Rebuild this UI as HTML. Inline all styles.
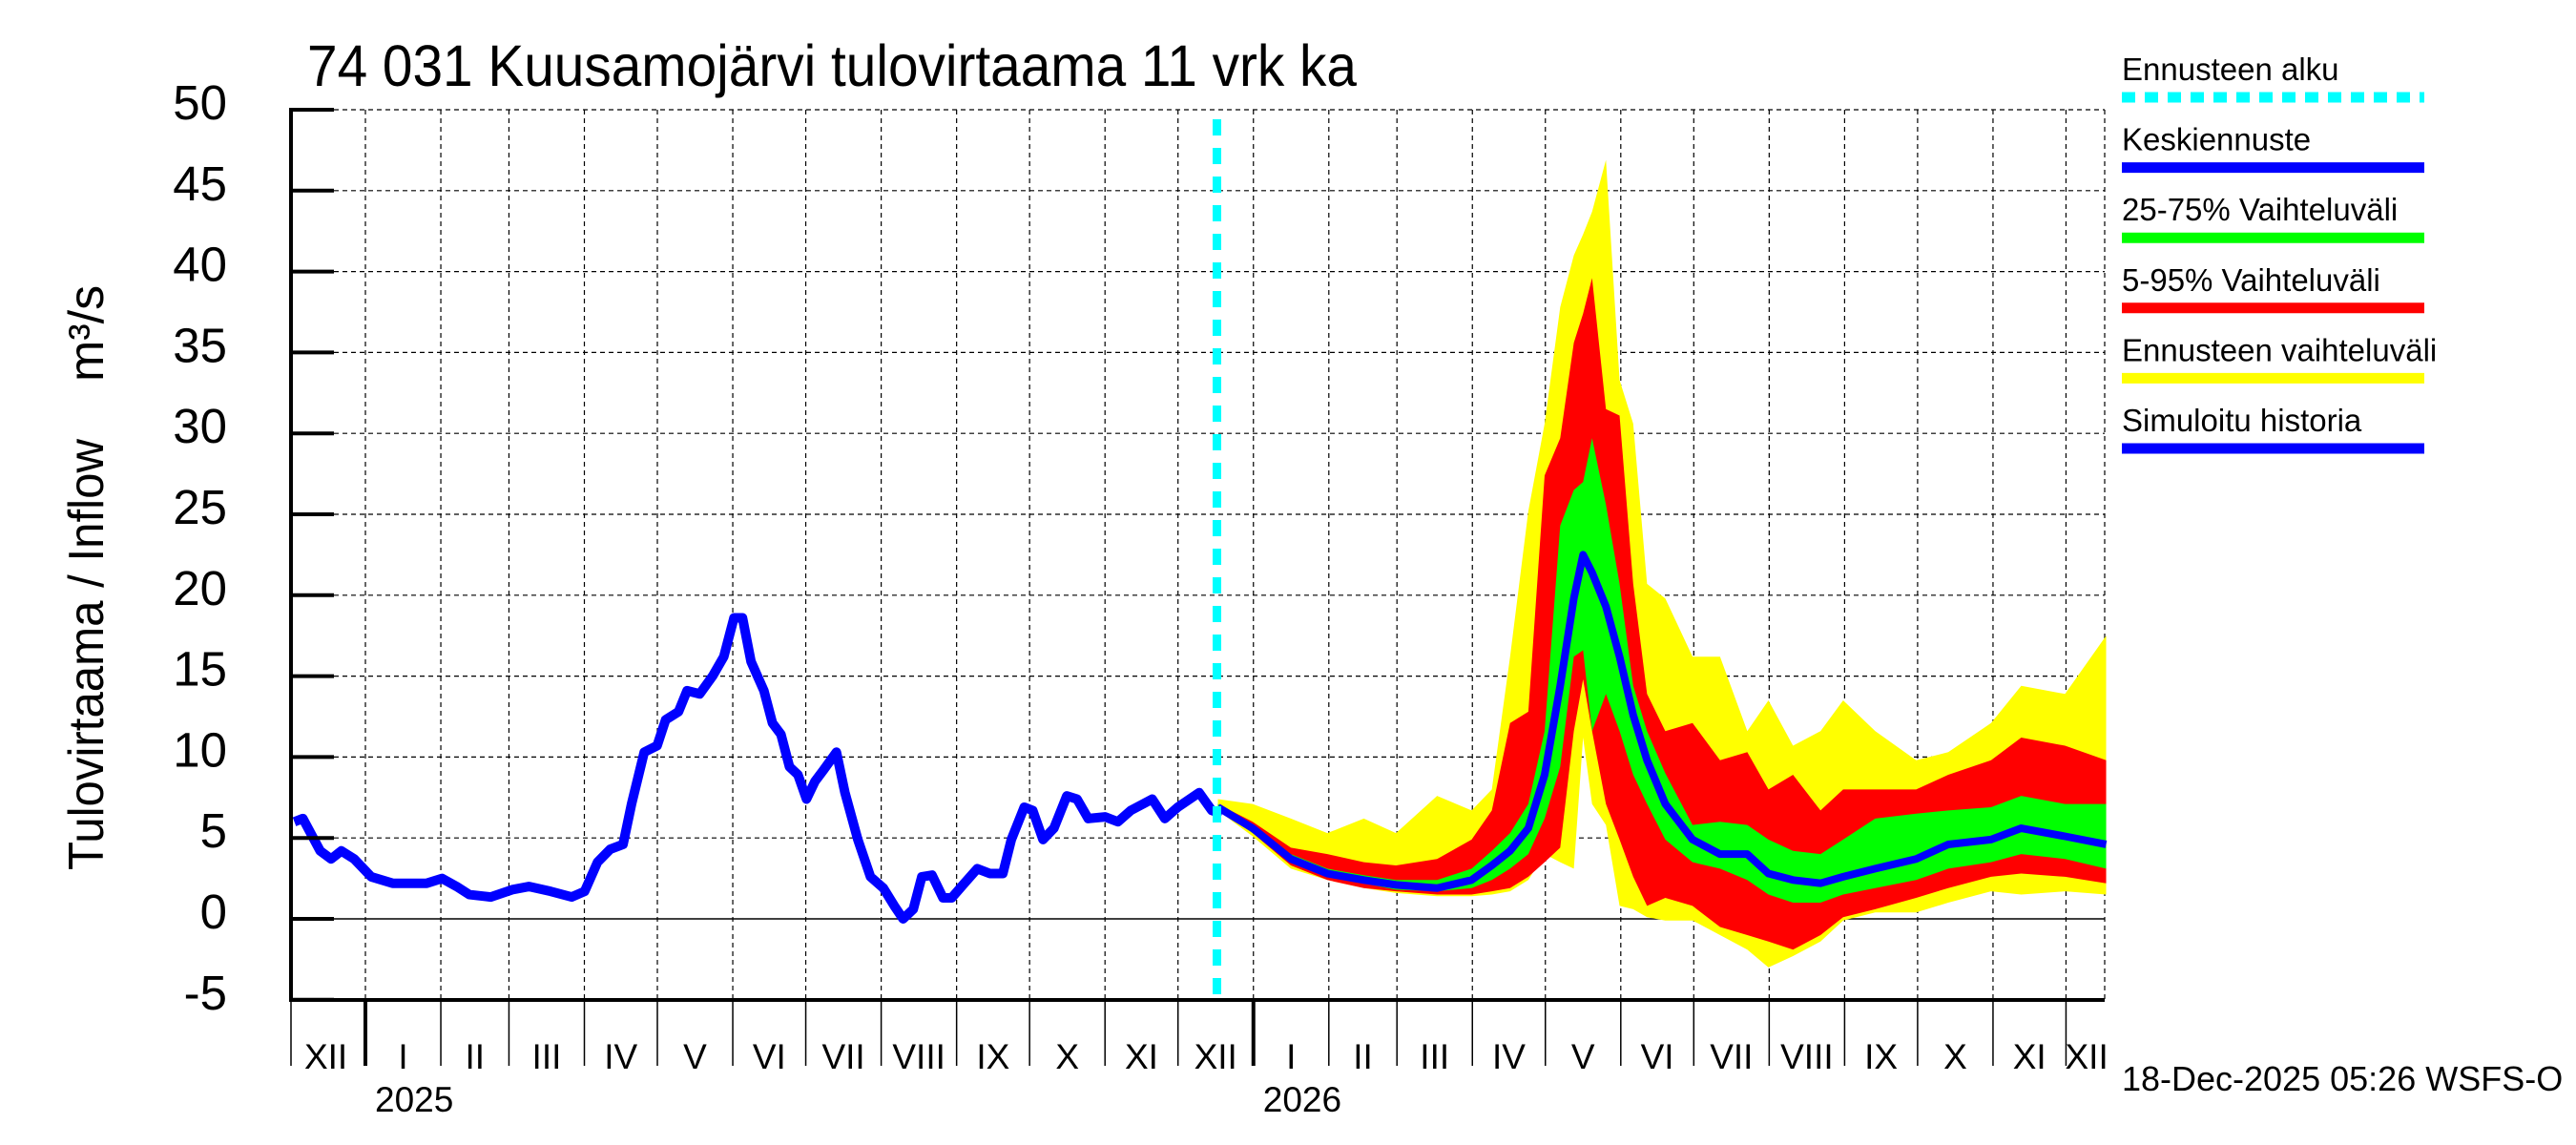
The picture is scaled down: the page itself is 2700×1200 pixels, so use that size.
<!DOCTYPE html>
<html><head><meta charset="utf-8"><style>
body{margin:0;background:#fff}
svg{display:block;font-family:"Liberation Sans",Arial,sans-serif}
</style></head><body>
<svg id="c" width="2700" height="1200" viewBox="0 0 2700 1200"></svg>
<script>
// ---- data ----
const yTicks=[-5,0,5,10,15,20,25,30,35,40,45,50];
const monthLabels=["XII","I","II","III","IV","V","VI","VII","VIII","IX","X","XI","XII","I","II","III","IV","V","VI","VII","VIII","IX","X","XI","XII"];
const monthStartDays=[-31,0,31,59,90,120,151,181,212,243,273,304,334,365,396,424,455,485,516,546,577,608,638,669,699];
const yearLabels=["2025","2026"];
const yearDays=[0,365];
const forecastStartDay=350;
const histDays=[-29.2,-25.7,-18.6,-14.1,-9.9,-4.6,2.4,11.2,25.2,31.5,37.5,42.7,51.5,60.3,67.3,76.1,84.8,90.1,95.4,100.6,105.9,109.4,114.6,119.9,123.4,128.7,132.2,137.4,142.7,147.3,151.5,155.0,158.5,163.8,167.3,170.8,174.3,177.8,181.3,184.8,188.3,193.6,197.1,202.4,207.6,212.9,217.4,221.0,225.2,228.7,232.9,237.4,241.0,246.2,251.5,256.7,262.0,265.5,270.8,274.3,278.5,283.0,288.3,292.5,297.1,304.1,309.3,314.6,323.4,328.6,333.9,342.7,347.9,352.1];
const histVals=[6.0,6.2,4.2,3.7,4.2,3.7,2.6,2.2,2.2,2.5,2.0,1.5,1.35,1.8,2.0,1.7,1.35,1.7,3.5,4.3,4.6,7.1,10.3,10.7,12.3,12.8,14.1,13.9,15.0,16.2,18.6,18.6,15.9,14.1,12.1,11.4,9.4,8.9,7.4,8.5,9.2,10.3,7.8,4.9,2.6,1.9,0.8,0.0,0.6,2.6,2.7,1.3,1.3,2.2,3.1,2.8,2.8,4.9,6.9,6.7,4.9,5.6,7.6,7.4,6.2,6.3,6.0,6.7,7.4,6.2,6.9,7.8,6.7,6.5];
const fcDays=[350.4,364.7,380.4,395.4,410.4,423.6,440.5,454.7,463.0,470.5,478.0,484.7,491.1,496.7,500.5,504.2,509.9,515.5,521.1,526.8,534.3,545.5,556.8,568.0,576.7,586.8,598.1,607.4,620.6,637.4,650.6,668.2,680.6,698.6,715.5];
const median=[6.9,5.6,3.7,2.8,2.4,2.1,1.9,2.4,3.3,4.2,5.6,8.9,14.4,19.8,22.5,21.4,19.3,16.2,12.6,9.8,7.1,4.9,4.0,4.0,2.8,2.4,2.2,2.6,3.1,3.7,4.6,4.9,5.6,5.1,4.6];
const p75=[7.1,5.8,4.0,3.1,2.7,2.4,2.4,3.1,4.2,5.3,7.1,11.6,24.3,26.5,27.0,29.7,25.6,20.7,14.4,11.6,9.0,5.8,6.0,5.8,4.9,4.2,4.0,4.9,6.2,6.5,6.7,6.9,7.6,7.1,7.1];
const p25=[6.8,5.3,3.5,2.6,2.2,1.8,1.7,1.9,2.4,3.1,4.0,6.2,9.4,16.2,16.6,11.6,13.9,11.6,8.9,7.1,4.9,3.5,3.1,2.4,1.5,1.0,1.0,1.5,1.9,2.4,3.1,3.5,4.0,3.7,3.1];
const p95=[7.1,6.0,4.4,4.0,3.5,3.3,3.7,4.9,6.7,12.1,12.8,27.4,29.7,35.6,37.4,39.6,31.5,31.1,20.7,13.9,11.6,12.1,9.8,10.3,8.0,8.9,6.7,8.0,8.0,8.0,8.9,9.8,11.2,10.7,9.8];
const p5=[6.8,5.3,3.3,2.4,1.9,1.7,1.5,1.5,1.7,1.9,2.6,3.5,4.4,11.6,14.8,11.6,7.1,4.9,2.6,0.8,1.3,0.8,-0.5,-1.0,-1.4,-1.9,-1.0,0.1,0.6,1.3,1.9,2.6,2.8,2.6,2.2];
const maxV=[7.4,7.1,6.2,5.3,6.2,5.3,7.6,6.7,8.0,16.2,25.2,30.6,37.8,41.0,42.3,43.7,46.9,33.3,30.6,20.7,19.8,16.2,16.2,11.6,13.5,10.7,11.6,13.5,11.6,9.8,10.3,12.1,14.4,13.9,17.5];
const minV=[6.7,5.1,3.1,2.4,1.9,1.6,1.4,1.4,1.5,1.7,2.4,4.0,3.5,3.1,11.2,7.1,5.8,0.8,0.6,0.1,-0.1,-0.1,-1.0,-1.9,-3.0,-2.3,-1.4,-0.1,0.4,0.4,1.0,1.7,1.5,1.7,1.5];
const legendLabels=["Ennusteen alku","Keskiennuste","25-75% Vaihteluväli","5-95% Vaihteluväli","Ennusteen vaihteluväli","Simuloitu historia"];
const legendColors=["#00ffff","#0000ff","#00ff00","#ff0000","#ffff00","#0000ff"];
// ---- layout ----
const L=305,R=2206,T=115,B=1048;
const x=d=>383+2.55*d;
const y=v=>963-v*16.96;
const svg=document.getElementById('c');
const NS="http://www.w3.org/2000/svg";
function mk(t,a,p){const e=document.createElementNS(NS,t);for(const k in a)e.setAttribute(k,a[k]);(p||svg).appendChild(e);return e;}
// grid
yTicks.forEach(v=>{
  const g=mk('line',{x1:L,x2:R,y1:y(v),y2:y(v),stroke:'#000','stroke-width':v===0?1.5:1.2,'stroke-dasharray':v===0?'none':'5,4'});
  
  
});
monthStartDays.forEach((d,i)=>{
  if(i===0)return;
  const g=mk('line',{x1:x(d),x2:x(d),y1:T,y2:B,stroke:'#000','stroke-width':1.2,'stroke-dasharray':'5,4'});
  
  
});
mk('line',{x1:R,x2:R,y1:T,y2:B,stroke:'#000','stroke-width':1.2,'stroke-dasharray':'5,4'});
// bands
function band(up,lo,col,name){
  let pts=fcDays.map((d,i)=>x(d)+','+y(up[i]));
  for(let i=fcDays.length-1;i>=0;i--)pts.push(x(fcDays[i])+','+y(lo[i]));
  const p=mk('polygon',{points:pts.join(' '),fill:col});
  
  
}
band(maxV,minV,'#ffff00','forecast-range-band');
band(p95,p5,'#ff0000','band-5-95');
band(p75,p25,'#00ff00','band-25-75');
const med=mk('polyline',{points:fcDays.map((d,i)=>x(d)+','+y(median[i])).join(' '),fill:'none',stroke:'#0000ff','stroke-width':8,'stroke-linejoin':'round'});


const hist=mk('polyline',{points:histDays.map((d,i)=>x(d)+','+y(histVals[i])).join(' '),fill:'none',stroke:'#0000ff','stroke-width':10,'stroke-linejoin':'round'});


const fs=mk('line',{x1:x(forecastStartDay),x2:x(forecastStartDay),y1:T+10,y2:B,stroke:'#00ffff','stroke-width':9,'stroke-dasharray':'17,13'});


// axes
mk('line',{x1:L,x2:L,y1:T-2,y2:B+2,stroke:'#000','stroke-width':4});
mk('line',{x1:L-2,x2:R,y1:B,y2:B,stroke:'#000','stroke-width':4});
yTicks.forEach(v=>{
  mk('line',{x1:L,x2:350,y1:y(v),y2:y(v),stroke:'#000','stroke-width':4});
  const t=mk('text',{x:238,y:y(v)+10,'text-anchor':'end','font-size':51});
  t.textContent=v;
  
  
});
monthStartDays.forEach((d,i)=>{
  if(i>0)mk('line',{x1:x(d),x2:x(d),y1:B,y2:1117,stroke:'#000','stroke-width':yearDays.includes(d)?4:1.5});
  const end=i<monthStartDays.length-1?monthStartDays[i+1]:716;
  const st=i===0?-32.5:d;
  const t=mk('text',{x:x((st+end)/2),y:1120,'text-anchor':'middle','font-size':37});
  t.textContent=monthLabels[i];
  
  
});
mk('line',{x1:L,x2:L,y1:B,y2:1117,stroke:'#000','stroke-width':1.5});
yearLabels.forEach((s,i)=>{
  const t=mk('text',{x:x(yearDays[i])+10,y:1165,'font-size':37});
  t.textContent=s;
  
  
});
// titles
const ti=mk('text',{x:322,y:90,'font-size':61,textLength:1100,lengthAdjust:'spacingAndGlyphs'});
ti.textContent="74 031 Kuusamojärvi tulovirtaama 11 vrk ka";


const yl=mk('text',{x:0,y:0,'font-size':52,transform:'translate(108,912) rotate(-90)',textLength:452,lengthAdjust:'spacingAndGlyphs'});
yl.textContent="Tulovirtaama / Inflow";


const yu=mk('text',{x:0,y:0,'font-size':52,transform:'translate(108,400) rotate(-90)'});
yu.textContent="m³/s";


// legend
legendLabels.forEach((s,i)=>{
  const by=84+i*73.6;
  const t=mk('text',{x:2224,y:by,'font-size':33});
  t.textContent=s;
  
  
  const l=mk('line',{x1:2224,x2:2541,y1:by+18,y2:by+18,stroke:legendColors[i],'stroke-width':11,'stroke-dasharray':i===0?'14,10':'none'});
  
  
});
const ts=mk('text',{x:2224,y:1143,'font-size':36});
ts.textContent="18-Dec-2025 05:26 WSFS-O";


</script>
</body></html>
